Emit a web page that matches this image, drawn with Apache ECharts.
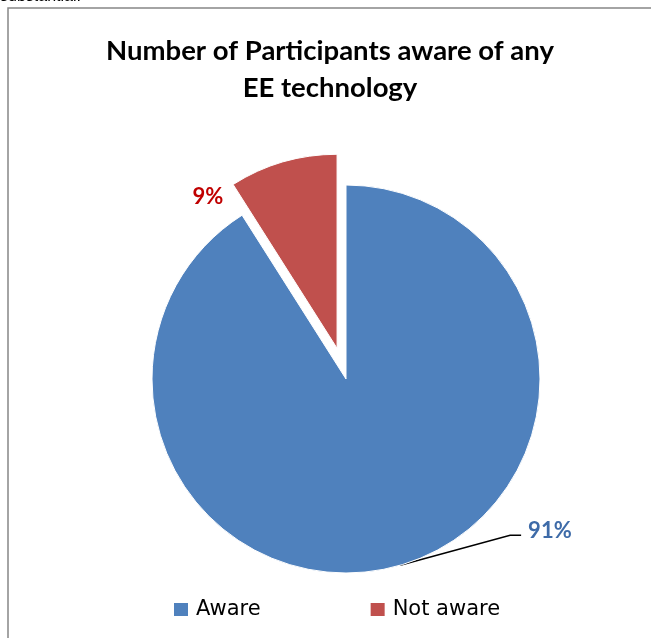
<!DOCTYPE html>
<html>
<head>
<meta charset="utf-8">
<script src="https://cdn.jsdelivr.net/npm/echarts@6/dist/echarts.min.js"></script>
<style>
  html, body { margin: 0; padding: 0; background: #ffffff; }
  #chart { width: 651px; height: 638px; }
</style>
</head>
<body>
<div id="chart"></div>
<script>
// Survey result: awareness of energy-efficiency (EE) technology
const categories = ['Aware', 'Not aware'];
const shares = [91, 9];
const sliceColors = ['#4F81BD', '#C0504D'];
const labelColors = ['#3E6BA8', '#C00000'];
const titleLines = ['Number of Participants aware of any', 'EE technology'];

const chart = echarts.init(document.getElementById('chart'), null, { renderer: 'canvas' });

const pieCenter = [346, 379];
const pieRadius = 194;
const explodeIndex = 1;      // the slice pulled out of the pie
const explodeDistance = 32;  // px

const total = shares.reduce((a, b) => a + b, 0);

// unit vector pointing at the middle of a slice (clockwise from 12 o'clock)
function midDir(idx) {
  let start = 0;
  for (let k = 0; k < idx; k++) start += shares[k];
  const mid = (start + shares[idx] / 2) / total * Math.PI * 2;
  return [Math.sin(mid), -Math.cos(mid)];
}

function rimMid(idx, center) {
  const d = midDir(idx);
  return [center[0] + pieRadius * d[0], center[1] + pieRadius * d[1]];
}

const exDir = midDir(explodeIndex);
const explodedCenter = [pieCenter[0] + explodeDistance * exDir[0], pieCenter[1] + explodeDistance * exDir[1]];

const hidden = { color: 'rgba(0,0,0,0)', borderWidth: 0 };

// one pie layer per slice, so that a slice can be drawn away from the centre
function layer(visibleIdx, center) {
  return {
    type: 'pie',
    name: categories[visibleIdx],
    center: center,
    radius: pieRadius,
    startAngle: 90,
    clockwise: true,
    silent: true,
    avoidLabelOverlap: false,
    emphasis: { disabled: true },
    label: {
      show: true,
      position: 'outside',
      formatter: '{c}%',
      fontFamily: 'Lato',
      fontWeight: 'bold',
      fontSize: 22
    },
    labelLine: {
      show: true,
      length: 20,
      length2: 10,
      lineStyle: { color: '#000000', width: 1.5 }
    },
    labelLayout: function (p) {
      if (p.dataIndex !== visibleIdx) return {};
      if (visibleIdx === 0) {
        const s = rimMid(0, center);
        const lx = s[0] + 128;
        const ly = s[1] - 34;
        return {
          x: lx,
          y: ly,
          align: 'left',
          verticalAlign: 'middle',
          labelLinePoints: [s, [lx - 18, ly + 4], [lx - 7, ly + 4]]
        };
      }
      return { x: 208, y: 197, align: 'center', verticalAlign: 'middle' };
    },
    data: categories.map((name, i) => (i === visibleIdx ? {
      name: name,
      value: shares[i],
      itemStyle: { color: sliceColors[i], borderColor: '#ffffff', borderWidth: 1 },
      label: { color: labelColors[i] },
      labelLine: { show: i === 0 }
    } : {
      name: name,
      value: shares[i],
      itemStyle: hidden,
      label: { show: false },
      labelLine: { show: false }
    }))
  };
}

chart.setOption({
  backgroundColor: '#ffffff',
  animation: false,
  title: {
    text: titleLines.join('\n'),
    left: 325,
    top: 28,
    textAlign: 'center',
    textStyle: {
      fontFamily: 'Lato',
      fontWeight: 'bold',
      fontSize: 27.5,
      lineHeight: 37,
      color: '#000000'
    }
  },
  legend: {
    data: categories.map((name, i) => ({ name: name, itemStyle: { color: sliceColors[i] } })),
    left: 174,
    bottom: 18,
    padding: 0,
    itemWidth: 14,
    itemHeight: 13,
    itemGap: 110,
    icon: 'rect',
    selectedMode: false,
    textStyle: { fontFamily: 'DejaVu Sans', fontSize: 21, color: '#000000', padding: [0, 0, 0, 3] }
  },
  graphic: [
    {
      type: 'rect',
      shape: { x: 8, y: 8, width: 700, height: 700 },
      style: { fill: 'none', stroke: '#878787', lineWidth: 1.5 },
      silent: true
    },
    {
      type: 'text',
      left: 0,
      top: -11,
      style: { text: 'substantial.', font: '16px "Liberation Sans"', fill: '#000000' },
      silent: true
    }
  ],
  series: [
    layer(0, pieCenter),
    layer(explodeIndex, explodedCenter)
  ]
});
</script>
</body>
</html>
